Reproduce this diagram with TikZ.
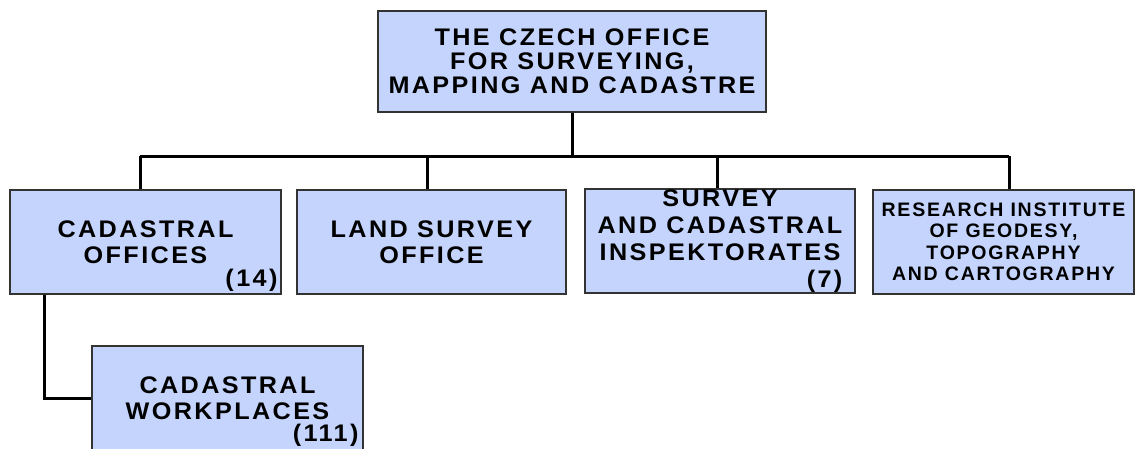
\documentclass[tikz,border=0pt]{standalone}
\usepackage{fontspec}
\newfontfamily\orgfont{Liberation Sans Bold}[FakeStretch=1.05, LetterSpace=10]
\newfontfamily\tightfont{Liberation Sans Bold}[LetterSpace=9]
\usetikzlibrary{positioning}

\definecolor{boxblue}{RGB}{196,212,252}

\begin{document}
\begin{tikzpicture}[x=1pt, y=-1pt,
    every node/.style={font=\orgfont\fontsize{24}{26}\selectfont},
    orgbox/.style={draw=black!80, line width=1.4pt, fill=boxblue, align=center,
      minimum width=271pt, minimum height=104pt, inner sep=0pt},
    count/.style={anchor=east, inner sep=0pt},
    link/.style={draw=black, line width=3pt}]
    \useasboundingbox (0,0) rectangle (1137,448);

    % head office
    \node[orgbox, minimum width=388pt, minimum height=101pt,
      font=\orgfont\fontsize{24}{24}\selectfont] (top) at (572,61.5)
      {THE CZECH OFFICE\\FOR SURVEYING,\\MAPPING AND CADASTRE};

    % first level
    \node[orgbox] (cad) at (145.5,242) {CADASTRAL\\OFFICES};
    \node[orgbox, minimum width=269pt] (land) at (431.5,242) {LAND SURVEY\\OFFICE};
    \node[orgbox, minimum width=270pt, font=\orgfont\fontsize{24}{27}\selectfont] (insp) at (720,241)
      {SURVEY\\AND CADASTRAL\\INSPEKTORATES\\\hfill(7)};
    \node[orgbox, minimum width=261pt, font=\tightfont\fontsize{19.5}{21.5}\selectfont] (inst) at (1003.5,242)
      {RESEARCH INSTITUTE\\OF GEODESY,\\TOPOGRAPHY\\AND CARTOGRAPHY};

    % second level
    \node[orgbox] (work) at (227.5,398) {CADASTRAL\\WORKPLACES};

    \node[count] (n14) at ([xshift=-4pt, yshift=14pt]cad.south east) {(14)};
    \node[count] (n111) at ([xshift=-5pt, yshift=15pt]work.south east) {(111)};

    % connectors
    \coordinate (bus) at (572,156);
    \draw[link] (top.south) -- (top.south |- bus);
    \draw[link] ([xshift=-5.5pt]cad.north |- bus) -- ([xshift=5.5pt]inst.north |- bus);
    \foreach \n/\dx in {cad/-5.5, land/-4.5, insp/-3, inst/5.5}
      \draw[link] ([xshift=\dx pt]\n.north |- bus) -- ([xshift=\dx pt]\n.north);
    \draw[link] ([xshift=35pt]cad.south west) |- (work.west);
\end{tikzpicture}
\end{document}
